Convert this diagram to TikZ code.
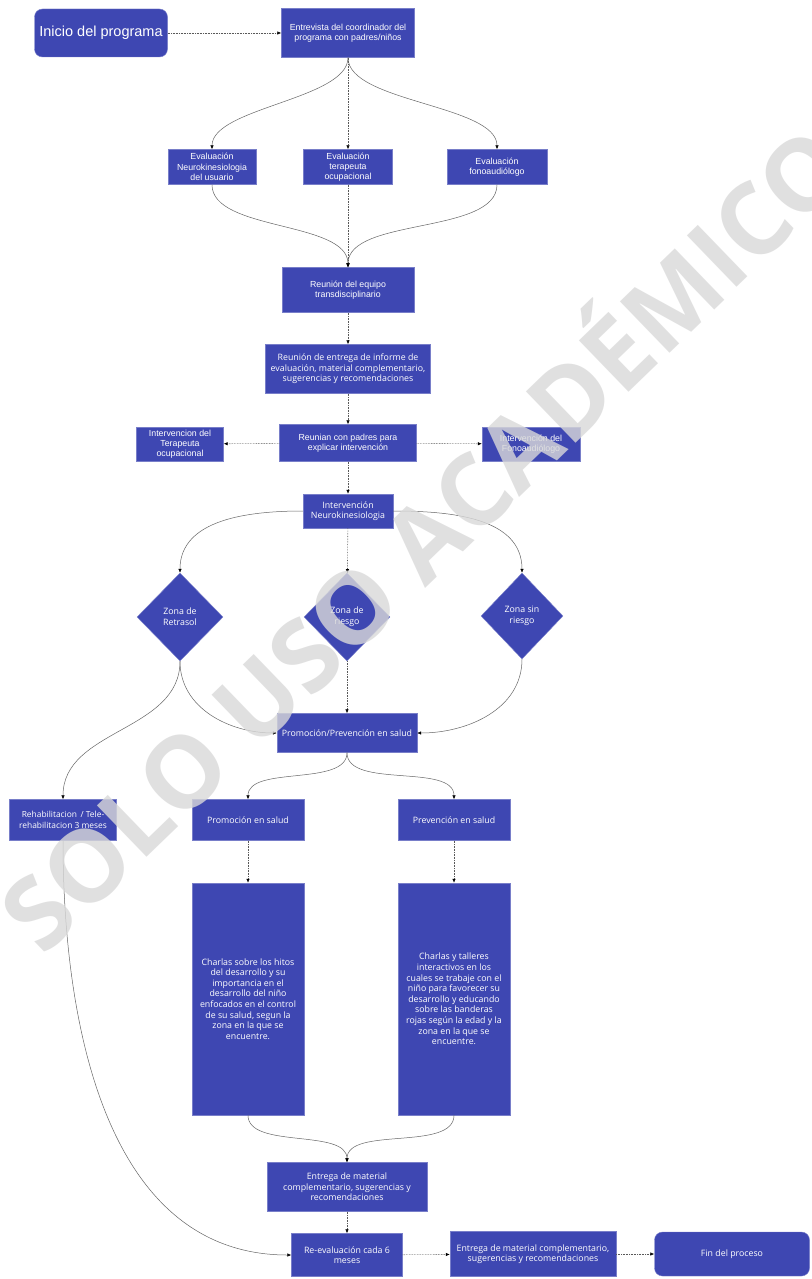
\documentclass[tikz,border=0pt]{standalone}
\usepackage{fontspec}
\newfontfamily\arialf{Liberation Sans}
\newfontfamily\opensf{Open Sans}
\usetikzlibrary{shapes.geometric,arrows.meta}
\definecolor{flowblue}{RGB}{62,71,178}

\tikzset{
	base/.style={fill=flowblue, draw=flowblue!70!white, line width=0.4pt, text=white, align=center, inner sep=1pt},
	abox/.style={base, rectangle, font=\arialf\fontsize{8.8}{10.2}\selectfont},
	obox/.style={base, rectangle, font=\opensf\fontsize{8.8}{10.6}\selectfont},
	term/.style={base, rectangle, rounded corners=8pt},
	zone/.style={base, diamond, inner sep=0pt, font=\opensf\fontsize{8.8}{11}\selectfont},
	straightlink/.style={draw=black!65, line width=0.6pt, densely dotted, -{Latex[length=4pt,width=3.5pt,color=black]}},
	curvelink/.style={draw=black!60, line width=0.5pt, -{Latex[length=4pt,width=3.5pt,color=black]}},
}

\begin{document}
\begin{tikzpicture}[x=1pt,y=-1pt]
	\useasboundingbox (0,0) rectangle (811,1279);
	\fill[white] (0,0) rectangle (811,1279);

	% top part
	\node[term, minimum width=133, minimum height=48, font=\arialf\fontsize{14.5}{16}\selectfont] (inicio) at (101,33) {Inicio del programa};
	\node[abox, minimum width=133, minimum height=49] (entrev) at (348,33) {Entrevista del coordinador del\\programa con padres/niños};
	\node[abox, minimum width=88, minimum height=35] (evneuro) at (212,167) {Evaluación\\Neurokinesiologia\\del usuario};
	\node[abox, minimum width=89, minimum height=35] (evto) at (348,167) {Evaluación\\terapeuta\\ocupacional};
	\node[abox, minimum width=100, minimum height=35] (evfono) at (497,167) {Evaluación\\fonoaudiólogo};
	\node[abox, minimum width=132, minimum height=45] (equipo) at (348,290) {Reunión del equipo\\transdisciplinario};
	\node[obox, minimum width=165, minimum height=49] (informe) at (348,369) {Reunión de entrega de informe de\\evaluación, material complementario,\\sugerencias y recomendaciones};
	\node[abox, minimum width=137, minimum height=37] (padres) at (348,443) {Reunian con padres para\\explicar intervención};
	\node[abox, minimum width=87, minimum height=34] (intto) at (180,444) {Intervencion del\\Terapeuta\\ocupacional};
	\node[abox, minimum width=98, minimum height=34] (intfono) at (531,444) {Intervención del\\Fonoaudiólogo};
	\node[obox, minimum width=90, minimum height=34] (intneuro) at (348,511) {Intervención\\Neurokinesiologia};

	% zonas
	\node[zone, minimum width=86, minimum height=88] (zretra) at (180,617) {Zona de\\Retrasol};
	\node[zone, minimum width=86, minimum height=88] (zriesgo) at (347,617) {Zona de\\riesgo};
	\node[zone, minimum width=82, minimum height=86] (zsin) at (522,616) {Zona sin\\riesgo};

	% promocion y prevencion
	\node[obox, minimum width=140, minimum height=39] (promprev) at (347,733) {Promoción/Prevención en salud};
	\node[obox, minimum width=107, minimum height=41, font=\opensf\fontsize{8.4}{10.6}\selectfont] (rehab) at (63,820) {Rehabilitacion\, / Tele-\\rehabilitacion 3 meses};
	\node[obox, minimum width=112, minimum height=41] (promo) at (248,820) {Promoción en salud};
	\node[obox, minimum width=112, minimum height=41] (preve) at (454,820) {Prevención en salud};
	\node[obox, minimum width=112, minimum height=232] (charla1) at (248,999) {Charlas sobre los hitos\\del desarrollo y su\\importancia en el\\desarrollo del niño\\enfocados en el control\\de su salud, segun la\\zona en la que se\\encuentre.};
	\node[obox, minimum width=112, minimum height=232] (charla2) at (454,999) {Charlas y talleres\\interactivos en los\\cuales se trabaje con el\\niño para favorecer su\\desarrollo y educando\\sobre las banderas\\rojas según la edad y la\\zona en la que se\\encuentre.};

	% cierre
	\node[obox, minimum width=160, minimum height=49] (entrega) at (347,1187) {Entrega de material\\complementario, sugerencias y\\recomendaciones};
	\node[obox, minimum width=111, minimum height=43] (reeval) at (347,1255) {Re-evaluación cada 6\\meses};
	\node[obox, minimum width=166, minimum height=45] (entrega2) at (533,1254) {Entrega de material complementario,\\sugerencias y recomendaciones};
	\node[term, minimum width=155, minimum height=44, font=\opensf\fontsize{8.8}{10.6}\selectfont] (fin) at (732,1254) {Fin del proceso};

	% conexiones
	\draw[straightlink] (inicio) -- (entrev);
	\draw[curvelink] (entrev.south) to[out=-90, in=90, looseness=0.65] (evneuro.north);
	\draw[straightlink] (entrev) -- (evto);
	\draw[curvelink] (entrev.south) to[out=-90, in=90, looseness=0.65] (evfono.north);
	\draw[curvelink] (evneuro.south) to[out=-90, in=90, looseness=0.75] (equipo.north);
	\draw[straightlink] (evto) -- (equipo);
	\draw[curvelink] (evfono.south) to[out=-90, in=90, looseness=0.75] (equipo.north);
	\draw[straightlink] (equipo) -- (informe);
	\draw[straightlink] (informe) -- (padres);
	\draw[straightlink] (padres) -- (intto);
	\draw[straightlink] (padres) -- (intfono);
	\draw[straightlink] (padres) -- (intneuro);
	\draw[curvelink] (intneuro.west) to[out=180, in=90] (zretra.north);
	\draw[straightlink] (intneuro) -- (zriesgo);
	\draw[curvelink] (intneuro.east) to[out=0, in=90] (zsin.north);
	\draw[curvelink] (zretra.south) to[out=-90, in=180] (promprev.west);
	\draw[straightlink] (zriesgo) -- (promprev);
	\draw[curvelink] (zsin.south) to[out=-90, in=0] (promprev.east);
	\draw[curvelink] (zretra.south) to[out=-90, in=90] (rehab.north);
	\draw[curvelink] (promprev.south) to[out=-90, in=90, looseness=0.8] (promo.north);
	\draw[curvelink] (promprev.south) to[out=-90, in=90, looseness=0.8] (preve.north);
	\draw[straightlink] (promo) -- (charla1);
	\draw[straightlink] (preve) -- (charla2);
	\draw[curvelink] (charla1.south) to[out=-90, in=90, looseness=0.8] (entrega.north);
	\draw[curvelink] (charla2.south) to[out=-90, in=90, looseness=0.8] (entrega.north);
	\draw[straightlink] (entrega) -- (reeval);
	\draw[curvelink] (rehab.south) to[out=-90, in=180] (reeval.west);
	\draw[straightlink] (reeval) -- (entrega2);
	\draw[straightlink] (entrega2) -- (fin);

	% marca de agua
	\node[rotate=44, text=black!15, opacity=0.8, font=\opensf\bfseries\fontsize{100}{100}\selectfont] (marca) at (418,532) {SOLO USO ACADÉMICO};
\end{tikzpicture}
\end{document}
